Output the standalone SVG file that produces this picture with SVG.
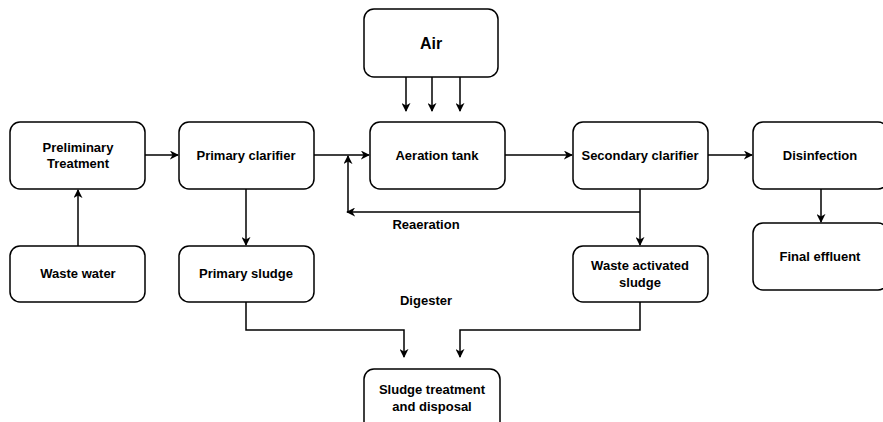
<svg xmlns="http://www.w3.org/2000/svg" width="883" height="422" viewBox="0 0 883 422">
  <style>
    .box { fill: #ffffff; stroke: #000000; stroke-width: 1.5; }
    .lbl { font-family: "Liberation Sans", Arial, sans-serif; font-size: 13px; font-weight: bold; fill: #000000; text-anchor: middle; dominant-baseline: central; }
    .big { font-size: 16px; }
    .edge { fill: none; stroke: #000000; stroke-width: 1.5; marker-end: url(#arrow); }
  </style>
  <defs>
    <marker id="arrow" viewBox="0 0 10 10" refX="9" refY="5" markerWidth="9" markerHeight="9" markerUnits="userSpaceOnUse" orient="auto">
      <path d="M0,0 L10,5 L0,10 L3,5 Z" fill="#000000"/>
    </marker>
  </defs>
  <rect width="883" height="422" fill="#ffffff"/>

  <g id="edges">
    <line class="edge" x1="78" y1="246" x2="78" y2="190"/>
    <line class="edge" x1="145" y1="155" x2="178" y2="155"/>
    <line class="edge" x1="314" y1="155" x2="369" y2="155"/>
    <line class="edge" x1="246" y1="189" x2="246" y2="245"/>
    <line class="edge" x1="406" y1="77" x2="406" y2="111"/>
    <line class="edge" x1="432" y1="77" x2="432" y2="111"/>
    <line class="edge" x1="460" y1="77" x2="460" y2="111"/>
    <line class="edge" x1="505" y1="155" x2="572" y2="155"/>
    <line class="edge" x1="708" y1="155" x2="752" y2="155"/>
    <line class="edge" x1="821" y1="189" x2="821" y2="222"/>
    <line class="edge" x1="640" y1="189" x2="640" y2="245"/>
    <polyline class="edge" points="640,212 347,212"/>
    <line class="edge" x1="348" y1="212" x2="348" y2="156"/>
    <polyline class="edge" points="246,302 246,330 404,330 404,357"/>
    <polyline class="edge" points="640,302 640,330 460,330 460,357"/>
  </g>

  <g id="air">
    <rect class="box" x="364" y="9" width="134" height="68" rx="10"/>
    <text class="lbl big" x="431" y="43">Air</text>
  </g>
  <g id="preliminary-treatment">
    <rect class="box" x="10" y="122" width="135" height="67" rx="10"/>
    <text class="lbl" x="78" y="147">Preliminary</text>
    <text class="lbl" x="78" y="163">Treatment</text>
  </g>
  <g id="primary-clarifier">
    <rect class="box" x="179" y="122" width="135" height="67" rx="10"/>
    <text class="lbl" x="246" y="155">Primary clarifier</text>
  </g>
  <g id="aeration-tank">
    <rect class="box" x="370" y="122" width="135" height="67" rx="10"/>
    <text class="lbl" x="437" y="155">Aeration tank</text>
  </g>
  <g id="secondary-clarifier">
    <rect class="box" x="573" y="122" width="135" height="67" rx="10"/>
    <text class="lbl" x="640" y="155">Secondary clarifier</text>
  </g>
  <g id="disinfection">
    <rect class="box" x="753" y="122" width="135" height="67" rx="10"/>
    <text class="lbl" x="820" y="155">Disinfection</text>
  </g>
  <g id="waste-water">
    <rect class="box" x="10" y="246" width="135" height="56" rx="10"/>
    <text class="lbl" x="78" y="273">Waste water</text>
  </g>
  <g id="primary-sludge">
    <rect class="box" x="179" y="246" width="135" height="56" rx="10"/>
    <text class="lbl" x="246" y="273">Primary sludge</text>
  </g>
  <g id="waste-activated-sludge">
    <rect class="box" x="573" y="246" width="135" height="56" rx="10"/>
    <text class="lbl" x="640" y="265">Waste activated</text>
    <text class="lbl" x="640" y="282">sludge</text>
  </g>
  <g id="final-effluent">
    <rect class="box" x="753" y="223" width="135" height="67" rx="10"/>
    <text class="lbl" x="820" y="256">Final effluent</text>
  </g>
  <g id="sludge-treatment">
    <rect class="box" x="364" y="369" width="136" height="67" rx="10"/>
    <text class="lbl" x="432" y="389">Sludge treatment</text>
    <text class="lbl" x="432" y="406">and disposal</text>
  </g>

  <g id="labels">
    <text class="lbl" x="426" y="224">Reaeration</text>
    <text class="lbl" x="426" y="300">Digester</text>
  </g>
</svg>
